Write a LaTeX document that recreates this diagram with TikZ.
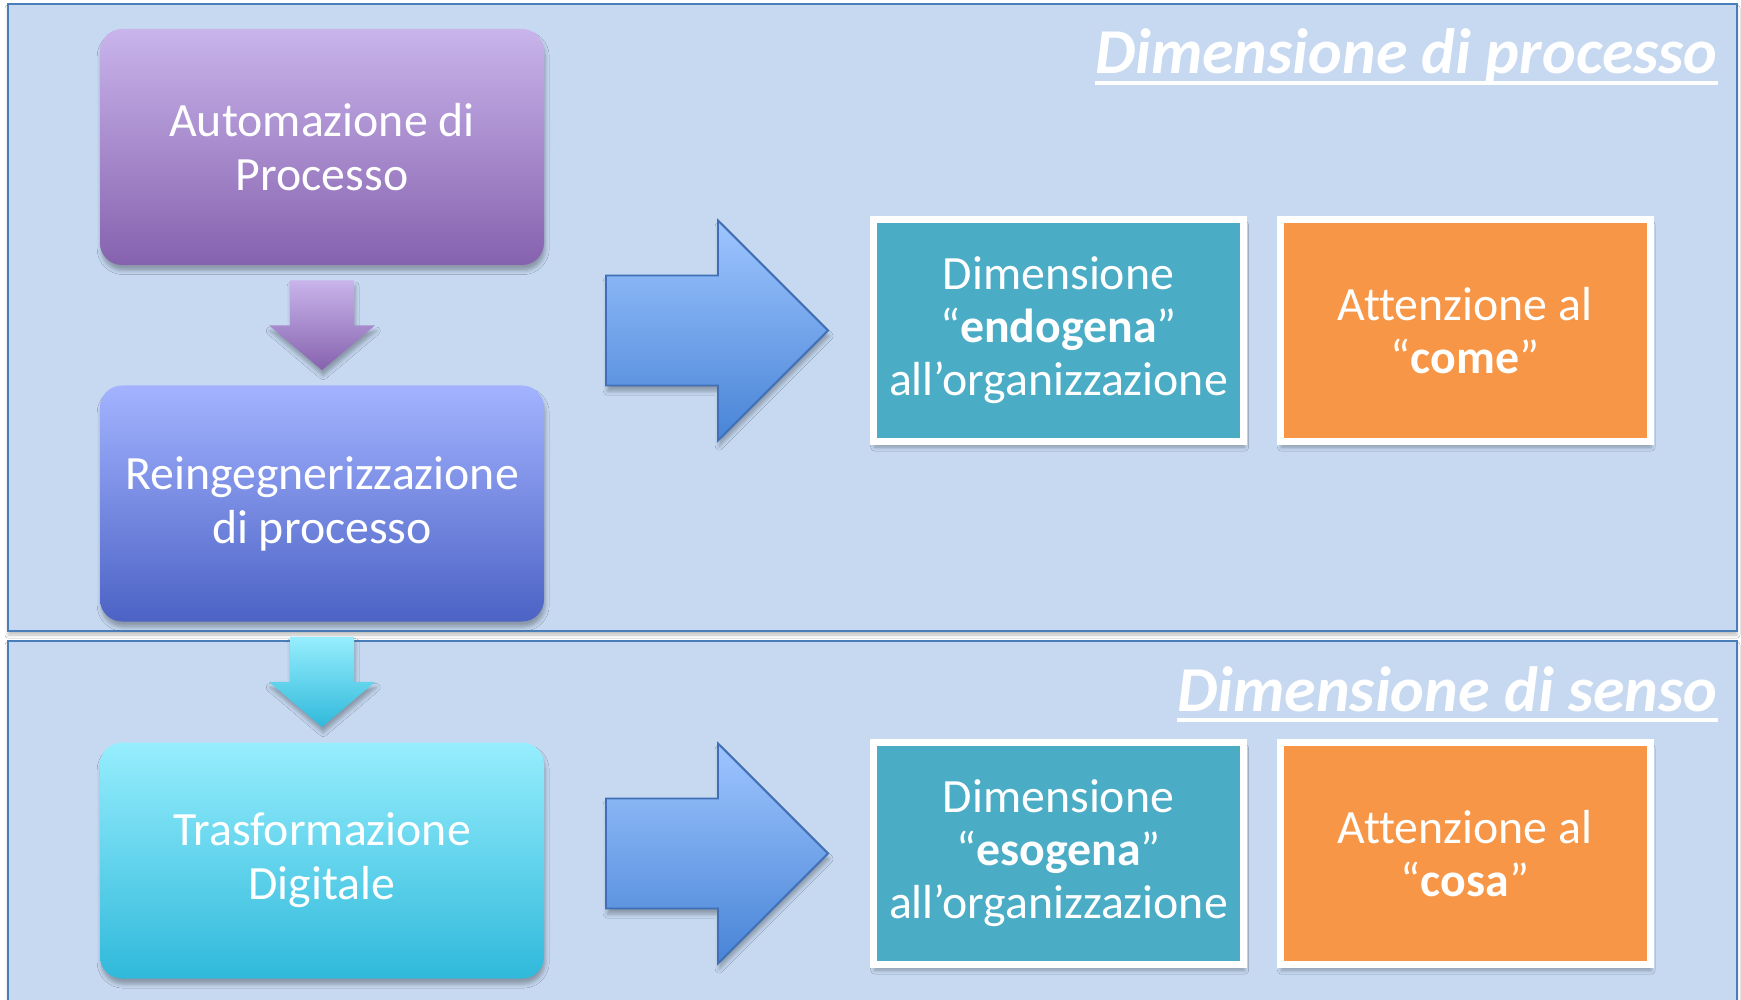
\documentclass[tikz,border=0pt]{standalone}
\usepackage{fontspec}
\setmainfont{Carlito}[Ligatures=NoCommon]
\usetikzlibrary{shadows.blur,calc}
\definecolor{panelfill}{HTML}{C6D9F1}
\definecolor{panelline}{HTML}{4A7EBB}
\definecolor{ptop}{HTML}{C9B4EB}
\definecolor{pbot}{HTML}{8662AE}
\definecolor{btop}{HTML}{A3B3FF}
\definecolor{bbot}{HTML}{4C63C5}
\definecolor{ctop}{HTML}{96EEFD}
\definecolor{cbot}{HTML}{30B9DB}
\definecolor{atop}{HTML}{9EC5FF}
\definecolor{abot}{HTML}{4884D6}
\definecolor{aline}{HTML}{3F6FB6}
\definecolor{tealc}{HTML}{4BACC6}
\definecolor{orangec}{HTML}{F79646}
\begin{document}
\begin{tikzpicture}[x=0.5pt,y=-0.5pt,
  softshadow/.style={blur shadow={shadow xshift=0.6pt, shadow yshift=-2.8pt, shadow blur radius=2pt, shadow opacity=30}},
  panel/.style={fill=panelfill, draw=panelline, line width=1.2pt, blur shadow={shadow xshift=0pt, shadow yshift=-2pt, shadow blur radius=1.5pt, shadow opacity=25}},
  lbox/.style={rounded corners=11pt, minimum width=222pt, minimum height=118pt, align=center, text=white, inner sep=0pt, font=\fontsize{23.9}{27}\selectfont, softshadow},
  cbox/.style={minimum width=185pt, minimum height=111pt, align=center, text=white, inner sep=0pt, draw=white, line width=3.5pt, font=\fontsize{23.9}{26.5}\selectfont, softshadow},
  darrow/.style={softshadow},
  bigarrow/.style={top color=atop, bottom color=abot, draw=aline, line width=0.9pt, softshadow},
  ttl/.style={text=white, inner sep=0pt, font=\fontsize{32}{36}\selectfont\bfseries\itshape},
  uline/.style={draw=white, line width=2pt}
]
\useasboundingbox (0,0) rectangle (1741,1000);
\fill[white] (0,0) rectangle (1741,1000);
% panels
\path[panel] (8,641) rectangle (1737,1012);
\path[panel] (8,4) rectangle (1737,631);
% titles
\node[ttl, anchor=base east] (t1) at (1718,74) {Dimensione di processo};
\draw[uline] ($(t1.base west)+(0,9)$) -- ($(t1.base east)+(0,9)$);
\node[ttl, anchor=base east] (t2) at (1718,711) {Dimensione di senso};
\draw[uline] ($(t2.base west)+(0,9)$) -- ($(t2.base east)+(0,9)$);
% left boxes
\node[lbox, top color=ptop, bottom color=pbot] (auto) at (322,147) {Automazione di\\Processo};
\node[lbox, top color=btop, bottom color=bbot] (reing) at (322,503.5) {Reingegnerizzazione\\di processo};
\node[lbox, top color=ctop, bottom color=cbot] (trasf) at (322,860.5) {Trasformazione\\Digitale};
% down arrows
\path[darrow, top color=ptop, bottom color=pbot]
  ($(auto.south)+(-32,15)$) -- ($(auto.south)+(32,15)$) -- ($(auto.south)+(32,60)$) -- ($(auto.south)+(53,60)$)
  -- ($(reing.north)+(0,-15)$) -- ($(auto.south)+(-53,60)$) -- ($(auto.south)+(-32,60)$) -- cycle;
\path[darrow, top color=ctop, bottom color=cbot]
  ($(reing.south)+(-32,15)$) -- ($(reing.south)+(32,15)$) -- ($(reing.south)+(32,60)$) -- ($(reing.south)+(53,60)$)
  -- ($(trasf.north)+(0,-15)$) -- ($(reing.south)+(-53,60)$) -- ($(reing.south)+(-32,60)$) -- cycle;
% right boxes
\node[cbox, fill=tealc] (endo) at (1058.5,330.5) {Dimensione\\“\textbf{endogena}”\\all’organizzazione};
\node[cbox, fill=orangec] (come) at (1465,330.5) {Attenzione al\\“\textbf{come}”};
\node[cbox, fill=tealc] (eso) at (1058.5,853.5) {Dimensione\\“\textbf{esogena}”\\all’organizzazione};
\node[cbox, fill=orangec] (cosa) at (1465,853.5) {Attenzione al\\“\textbf{cosa}”};
% big arrows
\foreach \n in {endo,eso}{
\path[bigarrow] ($(\n.west)+(-264,-55)$) -- ($(\n.west)+(-152,-55)$) -- ($(\n.west)+(-152,-110)$)
  -- ($(\n.west)+(-42,0)$) -- ($(\n.west)+(-152,110)$) -- ($(\n.west)+(-152,55)$) -- ($(\n.west)+(-264,55)$) -- cycle;
}
\end{tikzpicture}
\end{document}
